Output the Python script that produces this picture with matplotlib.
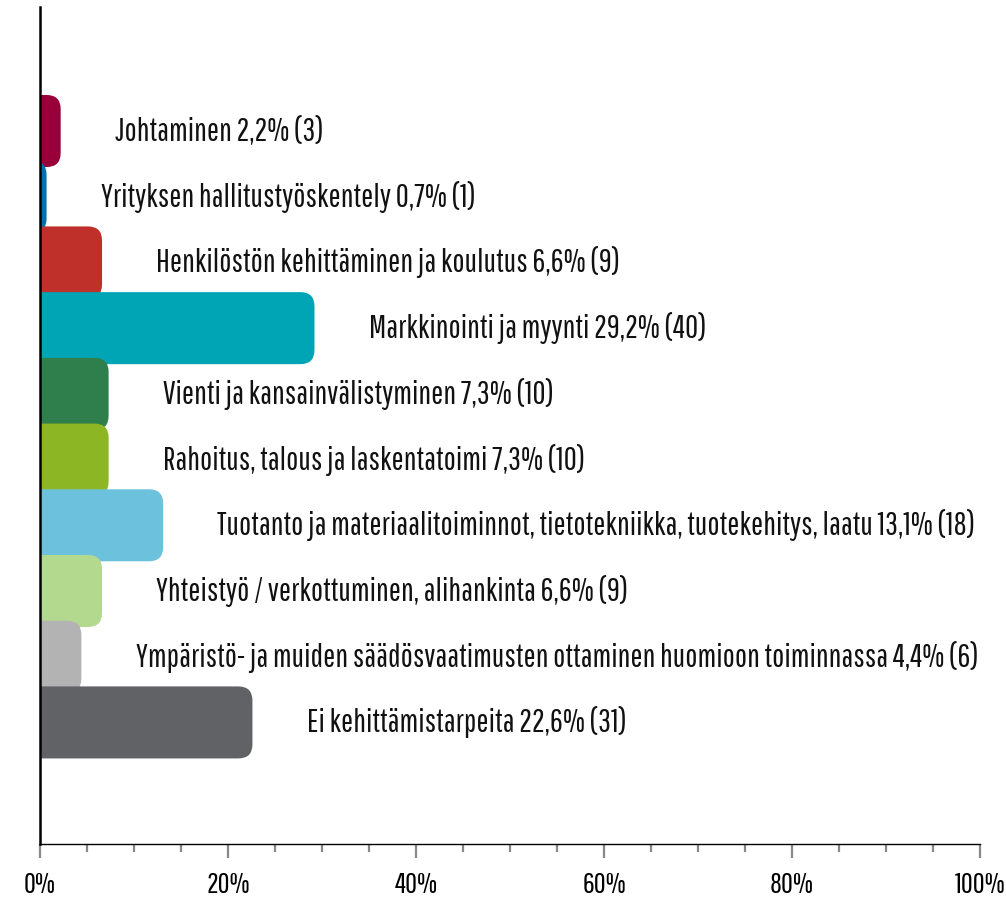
import matplotlib
matplotlib.use("Agg")
import matplotlib.pyplot as plt
from matplotlib.patches import FancyBboxPatch
from matplotlib.ticker import MultipleLocator, FuncFormatter

# ─── Data ─────────────────────────────────────────────────────────────────────

categories = [
    "Johtaminen",
    "Yrityksen hallitustyöskentely",
    "Henkilöstön kehittäminen ja koulutus",
    "Markkinointi ja myynti",
    "Vienti ja kansainvälistyminen",
    "Rahoitus, talous ja laskentatoimi",
    "Tuotanto ja materiaalitoiminnot, tietotekniikka, tuotekehitys, laatu",
    "Yhteistyö / verkottuminen, alihankinta",
    "Ympäristö- ja muiden säädösvaatimusten ottaminen huomioon toiminnassa",
    "Ei kehittämistarpeita",
]
percents = [2.2, 0.7, 6.6, 29.2, 7.3, 7.3, 13.1, 6.6, 4.4, 22.6]
counts = [3, 1, 9, 40, 10, 10, 18, 9, 6, 31]
colors = ["#990039", "#0070b0", "#c0302a", "#00a5b5", "#2e7f4c",
          "#8cb623", "#6cc2dd", "#b3d98f", "#b3b3b3", "#616266"]

# condensed face, with fallbacks
plt.rcParams["font.family"] = ["Pathway Gothic One", "Roboto Condensed", "DejaVu Sans"]

# ─── Figure ───────────────────────────────────────────────────────────────────

W, H = 1006, 908
fig = plt.figure(figsize=(W / 100, H / 100), dpi=100)
ax = fig.add_axes([40 / W, 1 - 844 / H, 940 / W, 837 / H])

ax.set_xlim(0, 100)
ax.set_ylim(10.85, -1.887)

bar_h = 1.096
px_x = 940 / 100                 # pixels per percent
px_y = 837 / (10.85 + 1.887)     # pixels per category
for i, (cat, p, n, c) in enumerate(zip(categories, percents, counts, colors)):
    x0 = -3   # start left of the axis so only the right end shows rounded
    box = FancyBboxPatch((x0, i - bar_h / 2), p - x0, bar_h,
                         boxstyle="round,pad=0,rounding_size=1.5",
                         mutation_aspect=px_x / px_y,
                         facecolor=c, edgecolor="none", zorder=2)
    ax.add_patch(box)
    label = f"{cat} {p:.1f}%".replace(".", ",") + f" ({n})"
    ax.annotate(label, xy=(p, i), xytext=(39, 0), textcoords="offset points",
                ha="left", va="center", fontsize=23, color="#111111")

for side in ["top", "right"]:
    ax.spines[side].set_visible(False)
ax.spines["left"].set_linewidth(1.8)
ax.spines["bottom"].set_linewidth(1.0)
ax.set_yticks([])

ax.xaxis.set_major_locator(MultipleLocator(20))
ax.xaxis.set_minor_locator(MultipleLocator(5))
ax.xaxis.set_major_formatter(FuncFormatter(lambda v, _: f"{v:.0f}%"))
ax.tick_params(axis="x", which="major", length=10, width=1.6, color="#888888",
               labelsize=21, pad=10)
ax.tick_params(axis="x", which="minor", length=6, width=1.6, color="#888888")

fig.savefig("out.png", dpi=100)
